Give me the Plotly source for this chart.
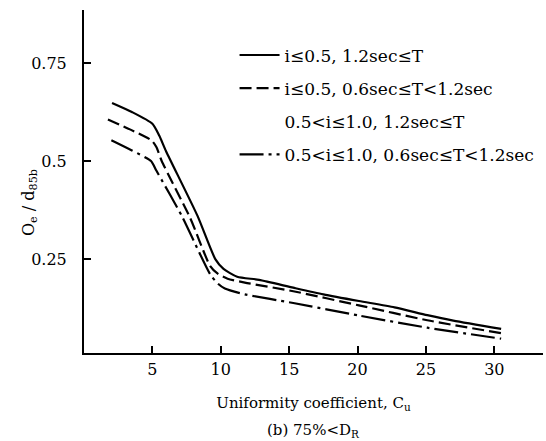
import plotly.graph_objects as go

# Data
cu_solid = [2.05, 3.5, 5.0, 5.5, 6.0, 8.3, 9.6, 10.2, 11.2, 12.8, 15.3, 17.5, 20.1, 22.7, 25.1, 27.0, 30.5]
oe_solid = [0.648, 0.625, 0.595, 0.565, 0.525, 0.360, 0.250, 0.225, 0.205, 0.197, 0.177, 0.160, 0.143, 0.127, 0.107, 0.093, 0.072]

cu_dash = [1.75, 3.4, 4.95, 5.3, 5.68, 7.76, 9.23, 9.8, 10.5, 11.76, 15.3, 20.1, 25.1, 30.5]
oe_dash = [0.606, 0.580, 0.552, 0.535, 0.500, 0.355, 0.232, 0.212, 0.200, 0.190, 0.168, 0.132, 0.094, 0.061]

cu_dashdot = [2.0, 3.5, 4.9, 5.3, 7.15, 9.23, 9.8, 10.3, 11.76, 15.3, 20.1, 25.1, 30.5]
oe_dashdot = [0.553, 0.527, 0.500, 0.475, 0.360, 0.211, 0.187, 0.175, 0.160, 0.138, 0.106, 0.075, 0.047]

names = ["i≤0.5, 1.2sec≤T",
         "i≤0.5, 0.6sec≤T<1.2sec",
         "0.5<i≤1.0, 1.2sec≤T",
         "0.5<i≤1.0, 0.6sec≤T<1.2sec"]

x_ticks = [5, 10, 15, 20, 25, 30]
y_ticks = [0.25, 0.5, 0.75]
y_tick_labels = ["0.25", "0.5", "0.75"]

FONT = "DejaVu Serif"
FS = 16

fig = go.Figure()
fig.add_trace(go.Scatter(x=cu_solid, y=oe_solid, mode="lines", name=names[0], legendgroup="a",
                         line=dict(color="black", width=2.2, shape="spline", smoothing=0.6)))
fig.add_trace(go.Scatter(x=cu_dash, y=oe_dash, mode="lines", name=names[1], legendgroup="b",
                         line=dict(color="black", width=2.2, dash="12px,5px", shape="spline", smoothing=0.6)))
fig.add_trace(go.Scatter(x=[None], y=[None], mode="lines", name=names[2], legendgroup="c",
                         line=dict(color="rgba(0,0,0,0)", width=2)))
fig.add_trace(go.Scatter(x=cu_dashdot, y=oe_dashdot, mode="lines", name=names[3], legendgroup="d",
                         line=dict(color="black", width=2.2, dash="24px,5px,3px,5px", shape="spline", smoothing=0.6)))

fig.update_layout(
    width=546, height=441,
    margin=dict(l=84, r=3, t=10, b=88),
    paper_bgcolor="white", plot_bgcolor="white",
    font=dict(family=FONT, size=FS, color="black"),
    showlegend=True,
    legend=dict(x=0.328, y=0.92, xanchor="left", yanchor="top",
                traceorder="grouped", tracegroupgap=8,
                font=dict(family=FONT, size=17, color="black"),
                bgcolor="rgba(0,0,0,0)", itemwidth=40),
    xaxis=dict(range=[0, 33.56], tickvals=x_ticks, ticks="inside", ticklen=7, tickwidth=1.5,
               tickcolor="black", showline=True, linecolor="black", linewidth=2,
               showgrid=False, zeroline=False, ticklabelstandoff=1,
               tickfont=dict(family=FONT, size=FS),
               title=dict(text="Uniformity coefficient, C<sub>u</sub>", standoff=19,
                          font=dict(family=FONT, size=15))),
    yaxis=dict(range=[0.0105, 0.885], tickvals=y_ticks, ticktext=y_tick_labels,
               ticks="inside", ticklen=7, tickwidth=1.5, tickcolor="black",
               showline=True, linecolor="black", linewidth=2,
               showgrid=False, zeroline=False, ticklabelstandoff=12,
               tickfont=dict(family=FONT, size=FS)),
    annotations=[
        dict(text="O<sub>e</sub> / d<sub>85b</sub>", xref="paper", yref="paper",
             x=-0.12, y=0.44, textangle=-90, showarrow=False,
             xanchor="center", yanchor="middle", font=dict(family=FONT, size=FS)),
        dict(text="(b) 75%<D<sub>R</sub>", xref="paper", yref="paper",
             x=0.5, y=-0.226, showarrow=False, xanchor="center", yanchor="middle",
             font=dict(family=FONT, size=15)),
    ],
)

fig.write_html("out.html")
